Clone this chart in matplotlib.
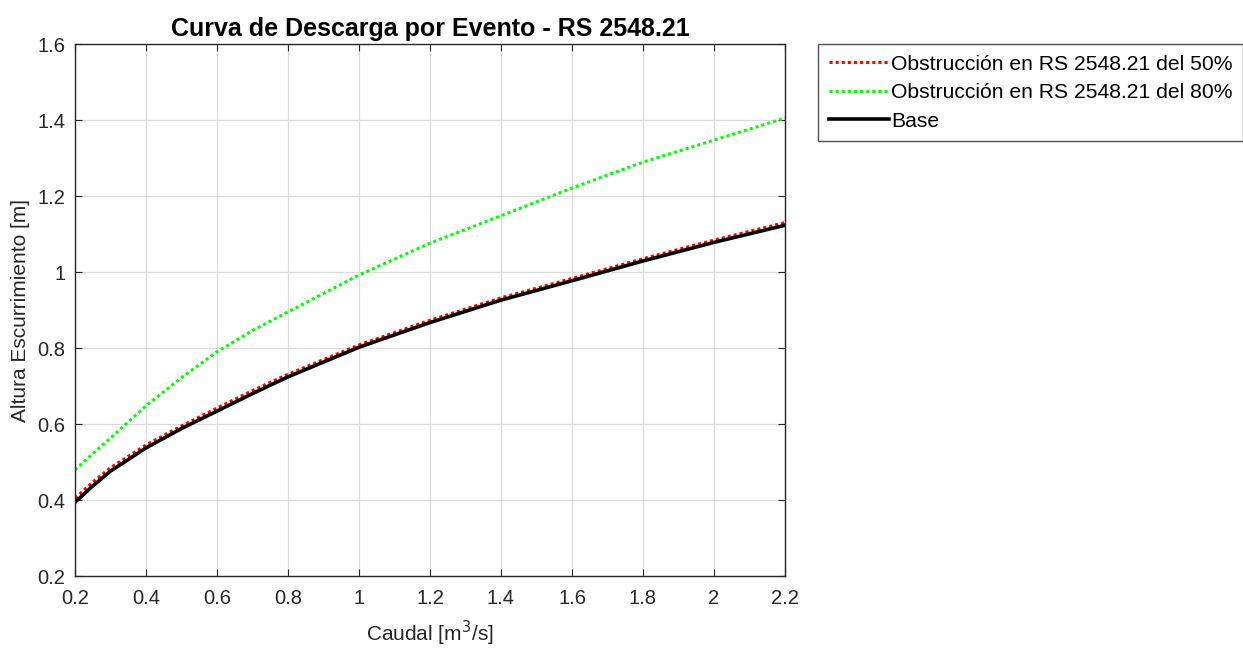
import matplotlib
matplotlib.use("Agg")
import matplotlib.pyplot as plt

plt.rcParams['font.family'] = ['Liberation Sans', 'DejaVu Sans']

caudal = [0.2, 0.25, 0.3, 0.4, 0.5, 0.6, 0.7, 0.8, 1.0, 1.2, 1.4, 1.6, 1.8, 2.0, 2.2]
obs50 = [0.405, 0.447, 0.485, 0.545, 0.595, 0.642, 0.688, 0.731, 0.808, 0.873, 0.932, 0.983, 1.035, 1.084, 1.130]
obs80 = [0.479, 0.522, 0.563, 0.648, 0.722, 0.790, 0.846, 0.895, 0.992, 1.076, 1.148, 1.221, 1.289, 1.347, 1.405]
base = [0.394, 0.437, 0.476, 0.537, 0.588, 0.634, 0.680, 0.724, 0.802, 0.867, 0.926, 0.977, 1.029, 1.078, 1.123]

labels = ['Obstrucción en RS 2548.21 del 50%', 'Obstrucción en RS 2548.21 del 80%', 'Base']
xticks = [0.2, 0.4, 0.6, 0.8, 1.0, 1.2, 1.4, 1.6, 1.8, 2.0, 2.2]
xticklabels = ['0.2', '0.4', '0.6', '0.8', '1', '1.2', '1.4', '1.6', '1.8', '2', '2.2']
yticks = [0.2, 0.4, 0.6, 0.8, 1.0, 1.2, 1.4, 1.6]
yticklabels = ['0.2', '0.4', '0.6', '0.8', '1', '1.2', '1.4', '1.6']

fig = plt.figure(figsize=(12.43, 6.48), dpi=100)
ax = fig.add_axes([75/1243, 1-576/648, (785-75)/1243, (576-44)/648])

ax.plot(caudal, obs50, linestyle=(0, (1, 1)), color='#ff0000', lw=2.2, label=labels[0])
ax.plot(caudal, obs80, linestyle=(0, (1, 1)), color='#00ff00', lw=2.2, label=labels[1])
ax.plot(caudal, base, linestyle='-', color='black', lw=2.6, label=labels[2])

ax.set_xlim(0.2, 2.2)
ax.set_ylim(0.2, 1.6)
ax.set_xticks(xticks)
ax.set_xticklabels(xticklabels)
ax.set_yticks(yticks)
ax.set_yticklabels(yticklabels)
ax.grid(True, color='#dcdcdc', lw=0.9)
ax.set_axisbelow(True)
ax.tick_params(direction='in', top=True, right=True, labelsize=14.5, colors='#262626', length=5)
ax.tick_params(axis='y', pad=7)
ax.tick_params(axis='x', pad=9)
for s in ax.spines.values():
    s.set_color('#262626')
    s.set_linewidth(1.0)

ax.set_title('Curva de Descarga por Evento - RS 2548.21', fontsize=18, fontweight='bold', pad=6)
ax.set_xlabel('Caudal [m$^3$/s]', fontsize=15, color='#262626', labelpad=8)
ax.set_ylabel('Altura Escurrimiento [m]', fontsize=15, color='#262626', labelpad=5)

leg = fig.legend(loc='upper left', bbox_to_anchor=(818/1243, 1-44/648), fontsize=15.2,
                 frameon=True, fancybox=False, edgecolor='#262626', handlelength=2.85,
                 handletextpad=0.1, borderpad=0.5, labelspacing=0.45, borderaxespad=0)
leg.get_frame().set_linewidth(1.0)

fig.savefig('out.png', dpi=100)
